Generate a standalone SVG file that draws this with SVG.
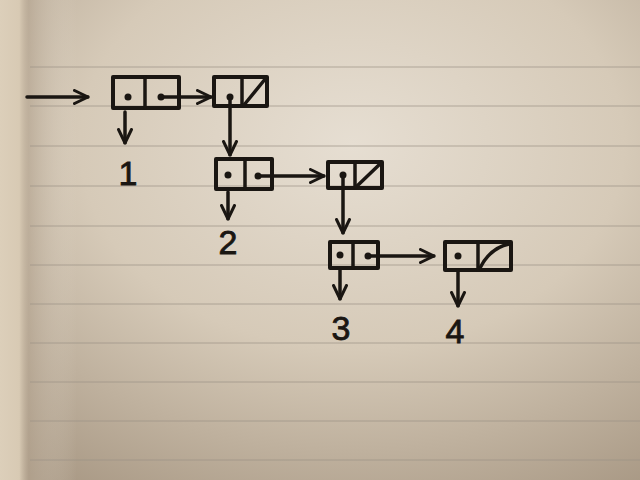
<svg xmlns="http://www.w3.org/2000/svg" width="640" height="480" viewBox="0 0 640 480">
<defs>
<radialGradient id="paper" cx="0.55" cy="0.3" r="0.85">
<stop offset="0" stop-color="#e6ded2"/>
<stop offset="0.5" stop-color="#d6cab8"/>
<stop offset="1" stop-color="#a89884"/>
</radialGradient>
<linearGradient id="edge" x1="0" y1="0" x2="1" y2="0">
<stop offset="0" stop-color="#dccfba"/>
<stop offset="0.03" stop-color="#d8cab4"/>
<stop offset="0.045" stop-color="#b4a490" stop-opacity="0.6"/>
<stop offset="0.12" stop-color="#e4dccf" stop-opacity="0"/>
</linearGradient>
<marker id="chev" viewBox="0 0 16 16" refX="15" refY="8" markerWidth="16" markerHeight="16" markerUnits="userSpaceOnUse" orient="auto">
<polyline points="1.5,1.5 15,8 1.5,14.5" fill="none" stroke="#1a1612" stroke-width="3" stroke-linecap="round" stroke-linejoin="round"/>
</marker>
<style>
.rule{stroke:#9c9286;stroke-width:1;opacity:0.7}
.box{fill:none;stroke:#1a1612;stroke-width:4;stroke-linejoin:round}
.ink{fill:none;stroke:#1a1612;stroke-width:3.5;stroke-linecap:round}
.dot{fill:#1a1612}
.con{fill:none;stroke:#1a1612;stroke-width:3.5;stroke-linecap:round;marker-end:url(#chev)}
.lbl{font-family:"Liberation Sans",Arial,sans-serif;font-size:34px;fill:#1a1612;text-anchor:middle;stroke:#1a1612;stroke-width:0.8}
</style>
</defs>
<rect width="640" height="480" fill="url(#paper)"/>
<rect width="640" height="480" fill="url(#edge)"/>
<g id="rules">
<line class="rule" x1="30" y1="67" x2="640" y2="67"/>
<line class="rule" x1="30" y1="106" x2="640" y2="106"/>
<line class="rule" x1="30" y1="146" x2="640" y2="146"/>
<line class="rule" x1="30" y1="186" x2="640" y2="186"/>
<line class="rule" x1="30" y1="226" x2="640" y2="226"/>
<line class="rule" x1="30" y1="265" x2="640" y2="265"/>
<line class="rule" x1="30" y1="304" x2="640" y2="304"/>
<line class="rule" x1="30" y1="343" x2="640" y2="343"/>
<line class="rule" x1="30" y1="382" x2="640" y2="382"/>
<line class="rule" x1="30" y1="421" x2="640" y2="421"/>
<line class="rule" x1="30" y1="460" x2="640" y2="460"/>
</g>
<g id="connectors">
<line class="con" x1="27" y1="97" x2="88" y2="97"/>
<line class="con" x1="161" y1="97" x2="211" y2="97"/>
<line class="con" x1="125" y1="112" x2="125" y2="143"/>
<line class="con" x1="230" y1="100" x2="230" y2="155"/>
<line class="con" x1="258" y1="176" x2="324" y2="176"/>
<line class="con" x1="228" y1="192" x2="228" y2="219"/>
<line class="con" x1="343" y1="178" x2="343" y2="233"/>
<line class="con" x1="368" y1="256" x2="434" y2="256"/>
<line class="con" x1="340" y1="270" x2="340" y2="299"/>
<line class="con" x1="458" y1="272" x2="458" y2="306"/>
</g>
<g id="cellA">
<rect class="box" x="113" y="77" width="66" height="31"/>
<line class="ink" x1="145" y1="77" x2="145" y2="108"/>
<circle class="dot" cx="128" cy="97" r="3.5"/>
<circle class="dot" cx="161" cy="97" r="3.5"/>
</g>
<g id="cellB">
<rect class="box" x="214" y="77" width="53" height="29"/>
<line class="ink" x1="242" y1="77" x2="242" y2="106"/>
<line class="ink" x1="244" y1="105" x2="266" y2="78"/>
<circle class="dot" cx="230" cy="97" r="3.5"/>
</g>
<g id="cellC">
<rect class="box" x="216" y="159" width="56" height="30"/>
<line class="ink" x1="245" y1="159" x2="245" y2="189"/>
<circle class="dot" cx="228" cy="175" r="3.5"/>
<circle class="dot" cx="258" cy="176" r="3.5"/>
</g>
<g id="cellD">
<rect class="box" x="328" y="162" width="54" height="26"/>
<line class="ink" x1="355" y1="162" x2="355" y2="188"/>
<line class="ink" x1="356" y1="187" x2="381" y2="163"/>
<circle class="dot" cx="343" cy="175" r="3.5"/>
</g>
<g id="cellE">
<rect class="box" x="330" y="242" width="48" height="26"/>
<line class="ink" x1="353" y1="242" x2="353" y2="268"/>
<circle class="dot" cx="340" cy="255" r="3.5"/>
<circle class="dot" cx="368" cy="256" r="3.5"/>
</g>
<g id="cellF">
<rect class="box" x="445" y="242" width="66" height="28"/>
<line class="ink" x1="478" y1="242" x2="478" y2="270"/>
<path class="ink" d="M480,268 Q490,248 509,244"/>
<circle class="dot" cx="458" cy="256" r="3.5"/>
</g>
<g id="label1"><text class="lbl" x="128" y="185">1</text></g>
<g id="label2"><text class="lbl" x="228" y="254">2</text></g>
<g id="label3"><text class="lbl" x="341" y="340">3</text></g>
<g id="label4"><text class="lbl" x="455" y="343">4</text></g>
</svg>
